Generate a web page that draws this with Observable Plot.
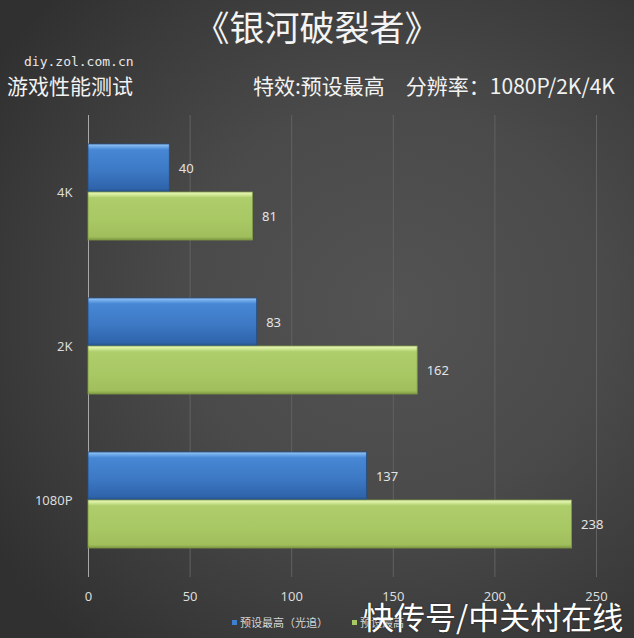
<!DOCTYPE html>
<html>
<head>
<meta charset="utf-8">
<script src="https://cdn.jsdelivr.net/npm/d3@7"></script>
<script src="https://cdn.jsdelivr.net/npm/@observablehq/plot@0.6"></script>
<style>
  html, body { margin: 0; padding: 0; }
  body { width: 634px; height: 638px; overflow: hidden; }
  #wrap {
    position: relative; width: 634px; height: 638px; overflow: hidden;
    background: radial-gradient(ellipse 75% 70% at 62% 48%, #535353 0%, #4a4a4a 45%, #3a3a3a 80%, #303030 100%);
    font-family: "Noto Sans CJK SC", "Noto Sans", sans-serif;
    color: #f2f2f2;
  }
  .t { position: absolute; white-space: nowrap; line-height: 1; }
  #title { left: 0; width: 634px; text-align: center; top: 8px; font-size: 35px; color: #f4f4f4; letter-spacing: 0px; }
  #site { left: 24px; top: 55px; font-family: "DejaVu Sans Mono", monospace; font-size: 13px; color: #e8e8e8; }
  #sub { left: 7px; top: 75px; font-size: 21px; color: #f2f2f2; }
  #spec { left: 253px; top: 75px; font-size: 21px; color: #f2f2f2; }
  #spec .gap { display: inline-block; width: 21px; }
  #chart { position: absolute; left: 0; top: 100px; }
  #legend { position: absolute; top: 614px; left: 232px; font-size: 11px; color: #d8d8d8; display: flex; align-items: center; }
  .sw { display: inline-block; width: 5px; height: 5px; margin-right: 3px; }
  #wm { left: 363px; top: 600px; font-size: 31px; color: #ffffff; text-shadow: 0 0 2px rgba(0,0,0,0.5); }
</style>
</head>
<body>
<svg width="0" height="0" style="position:absolute">
  <defs>
    <linearGradient id="gBlue" x1="0" y1="0" x2="0" y2="1">
      <stop offset="0" stop-color="#9cc8f5"/>
      <stop offset="0.06" stop-color="#6aa6e8"/>
      <stop offset="0.12" stop-color="#4787d4"/>
      <stop offset="0.55" stop-color="#3d79c5"/>
      <stop offset="0.93" stop-color="#2f64aa"/>
      <stop offset="1" stop-color="#234e86"/>
    </linearGradient>
    <linearGradient id="gGreen" x1="0" y1="0" x2="0" y2="1">
      <stop offset="0" stop-color="#eefac0"/>
      <stop offset="0.06" stop-color="#d0e995"/>
      <stop offset="0.12" stop-color="#aecd6b"/>
      <stop offset="0.6" stop-color="#a8c864"/>
      <stop offset="0.93" stop-color="#a0bf5c"/>
      <stop offset="1" stop-color="#7f9a45"/>
    </linearGradient>
  </defs>
</svg>
<div id="wrap">
  <div class="t" id="title">《银河破裂者》</div>
  <div class="t" id="site">diy.zol.com.cn</div>
  <div class="t" id="sub">游戏性能测试</div>
  <div class="t" id="spec">特效:预设最高<span class="gap"></span>分辨率：1080P/2K/4K</div>
  <div id="chart"></div>
  <div id="legend"></div>
  <div class="t" id="wm">快传号/中关村在线</div>
</div>
<script>
const categories = ["4K", "2K", "1080P"];
const seriesNames = ["预设最高（光追）", "预设最高"];
const rtValues = [40, 83, 137];
const maxValues = [81, 162, 238];
const xTicks = [0, 50, 100, 150, 200, 250];
const seriesFills = ["url(#gBlue)", "url(#gGreen)"];
const seriesStrokes = ["#234e86", "#7f9a45"];
const legendColors = ["#3f7fd0", "#a8c864"];

const rows = [];
categories.forEach((c, i) => {
  rows.push({category: c, series: seriesNames[0], value: rtValues[i]});
  rows.push({category: c, series: seriesNames[1], value: maxValues[i]});
});

const barMarks = seriesNames.map((s, k) =>
  Plot.barX(rows.filter(d => d.series === s), {
    x: "value", y: "series", fy: "category",
    fill: seriesFills[k], stroke: seriesStrokes[k], strokeWidth: 0.8
  })
);

const chart = Plot.plot({
  width: 634,
  height: 510,
  marginLeft: 88,
  marginRight: 38,
  marginTop: 14,
  marginBottom: 33,
  style: {background: "transparent", color: "#dcdcdc", fontSize: "13px", fontFamily: "'Noto Sans', sans-serif", overflow: "visible"},
  x: {domain: [0, 250], ticks: xTicks, tickSize: 0, tickPadding: 14, label: null, grid: false},
  y: {domain: seriesNames, paddingInner: 0, paddingOuter: 0.59, axis: null},
  fy: {domain: categories, padding: 0, axis: "left", label: null, tickSize: 0, tickPadding: 16},
  marks: [
    Plot.gridX(xTicks.slice(1), {stroke: "#626262", strokeOpacity: 1, strokeWidth: 1}),
    Plot.ruleX([0], {stroke: "#a8a8a8", strokeWidth: 1}),
    ...barMarks,
    Plot.text(rows, {
      x: "value", y: "series", fy: "category", text: d => String(d.value),
      dx: 9, textAnchor: "start", fill: "#e4e4e4", fontSize: 13
    })
  ]
});
document.getElementById("chart").appendChild(chart);

const legend = document.getElementById("legend");
seriesNames.forEach((s, k) => {
  const item = document.createElement("span");
  item.style.display = "inline-flex";
  item.style.alignItems = "center";
  item.style.marginRight = k === 0 ? "24px" : "0";
  const sw = document.createElement("span");
  sw.className = "sw";
  sw.style.background = legendColors[k];
  item.appendChild(sw);
  item.appendChild(document.createTextNode(s));
  legend.appendChild(item);
});
</script>
</body>
</html>
